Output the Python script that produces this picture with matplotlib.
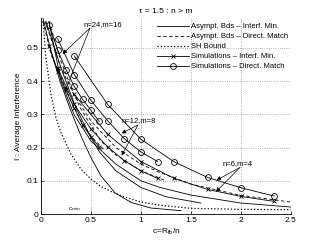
import matplotlib
matplotlib.use("Agg")
from matplotlib import pyplot as plt

plt.rcParams["font.family"] = ["Liberation Sans", "DejaVu Sans"]
plt.rcParams["mathtext.fontset"] = "custom"
plt.rcParams["mathtext.rm"] = "Liberation Sans"

# simulation points (c = R_fb / n, R_fb = 2..14)
c24 = [0.083, 0.167, 0.25, 0.333, 0.417, 0.5, 0.583]
c12 = [0.167, 0.333, 0.5, 0.667, 0.833, 1.0, 1.167]
c6 = [0.333, 0.667, 1.0, 1.333, 1.667, 2.0, 2.333]

dm24 = [0.568, 0.494, 0.435, 0.384, 0.345, 0.312, 0.279]
dm12 = [0.528, 0.42, 0.342, 0.281, 0.227, 0.187, 0.158]
dm6 = [0.476, 0.33, 0.225, 0.157, 0.11, 0.079, 0.054]

im24 = [0.507, 0.43, 0.372, 0.318, 0.268, 0.232, 0.202]
im12 = [0.44, 0.33, 0.256, 0.202, 0.161, 0.13, 0.107]
im6 = [0.36, 0.24, 0.158, 0.107, 0.074, 0.053, 0.038]

# asymptotic bounds
ca24 = [0.02, 0.1, 0.19, 0.3, 0.41, 0.5, 0.6, 0.74, 0.9, 1.1, 1.4]
sol24 = [0.59, 0.49, 0.4, 0.31, 0.228, 0.17, 0.115, 0.064, 0.035, 0.018, 0.01]
dc24 = [0.02, 0.1, 0.19, 0.3, 0.4, 0.5, 0.625]
das24 = [0.58, 0.48, 0.42, 0.34, 0.28, 0.235, 0.195]
ca12 = [0.05, 0.2, 0.35, 0.5, 0.59, 0.75, 1.0, 1.25, 1.6]
sol12 = [0.58, 0.44, 0.32, 0.23, 0.185, 0.13, 0.08, 0.052, 0.033]
dc12 = [0.04, 0.2, 0.41, 0.6, 0.74, 1.0, 1.25]
das12 = [0.58, 0.44, 0.31, 0.22, 0.18, 0.13, 0.1]
ca6 = [0.08, 0.2, 0.33, 0.5, 0.75, 1.0, 1.19, 1.5, 2.0, 2.5]
sol6 = [0.58, 0.4, 0.3, 0.22, 0.15, 0.1, 0.08, 0.057, 0.033, 0.021]
das6 = [0.58, 0.46, 0.36, 0.28, 0.2, 0.15, 0.125, 0.09, 0.056, 0.036]

csh = [0.02, 0.05, 0.1, 0.15, 0.2, 0.3, 0.4, 0.5, 0.6, 0.7, 0.8, 1.0, 1.2, 1.5, 2.0, 2.5]
sh = [0.58, 0.47, 0.36, 0.29, 0.245, 0.18, 0.135, 0.105, 0.083, 0.068, 0.055, 0.036, 0.026, 0.017, 0.014, 0.013]

fig = plt.figure(figsize=(3.2, 2.41), dpi=100)
ax = fig.add_axes([0.128, 0.112, 0.781, 0.813])

lw = 0.6
for cc, yy in [(ca24, sol24), (ca12, sol12), (ca6, sol6)]:
    ax.plot(cc, yy, "k-", lw=lw)
for cc, yy in [(dc24, das24), (dc12, das12), (ca6, das6)]:
    ax.plot(cc, yy, "k--", lw=lw, dashes=(4, 3))
ax.plot(csh, sh, "k:", lw=0.9)
for cc, yy in [(c24, im24), (c12, im12), (c6, im6)]:
    ax.plot(cc, yy, "k-", marker="x", ms=3, mew=0.6, lw=lw)
for cc, yy in [(c24, dm24), (c12, dm12), (c6, dm6)]:
    ax.plot(cc, yy, "k-", marker="o", ms=4.2, mfc="none", mew=0.6, lw=lw)

# legend handles
h = [
    plt.Line2D([], [], color="k", lw=lw),
    plt.Line2D([], [], color="k", lw=lw, ls="--", dashes=(4, 3)),
    plt.Line2D([], [], color="k", lw=0.9, ls=":"),
    plt.Line2D([], [], color="k", lw=lw, marker="x", ms=3, mew=0.6),
    plt.Line2D([], [], color="k", lw=lw, marker="o", ms=4.2, mfc="none", mew=0.6),
]
labels = [
    "Asympt. Bds \u2013 Interf. Min.",
    "Asympt. Bds \u2013 Direct. Match",
    "SH Bound",
    "Simulations \u2013 Interf. Min.",
    "Simulations \u2013 Direct. Match",
]
fig.legend(h, labels, loc="upper left", bbox_to_anchor=(0.49, 0.905),
           frameon=False, fontsize=5.5, handlelength=4.2, handletextpad=0.3,
           labelspacing=0.35, borderpad=0, borderaxespad=0)

arrow = dict(arrowstyle="-|>", color="k", lw=0.5, mutation_scale=6,
             shrinkA=0, shrinkB=0)
notes = [
    ("n=24,m=16", (0.62, 0.572), (0.49, 0.56), [(0.217, 0.482), (0.24, 0.369)]),
    ("n=12,m=8", (0.98, 0.28), (0.97, 0.268), [(0.807, 0.243), (0.807, 0.176)]),
    ("n=6,m=4", (1.97, 0.151), (1.99, 0.14), [(1.757, 0.102), (1.75, 0.067)]),
]
for txt, pos, tail, heads in notes:
    ax.text(pos[0], pos[1], txt, fontsize=5.5, ha="center", va="center")
    for hd in heads:
        ax.annotate("", xy=hd, xytext=tail, arrowprops=arrow)

ax.text(0.27, 0.002, r"c$_{min}$", fontsize=4.5, ha="left", va="bottom")

ax.set_xlim(0, 2.5)
ax.set_ylim(0, 0.59)
ax.set_xticks([0, 0.5, 1, 1.5, 2, 2.5])
ax.set_xticklabels(["0", "0.5", "1", "1.5", "2", "2.5"])
ax.set_yticks([0, 0.1, 0.2, 0.3, 0.4, 0.5])
ax.set_yticklabels(["0", "0.1", "0.2", "0.3", "0.4", "0.5"])
ax.tick_params(labelsize=6, length=2, width=0.5, direction="in", pad=2)
ax.grid(True, ls=":", color="#999999", lw=0.6)
for s in ["top", "right"]:
    ax.spines[s].set_visible(False)
for s in ["left", "bottom"]:
    ax.spines[s].set_linewidth(0.6)
ax.set_xlabel(r"c=R$_{\mathrm{fb}}$/n", fontsize=6, labelpad=2)
ax.set_ylabel("I : Average Interference", fontsize=6, labelpad=3)
ax.set_title("\u03c4 = 1.5 : n > m", fontsize=6, pad=4)

fig.savefig("out.png", dpi=100)
